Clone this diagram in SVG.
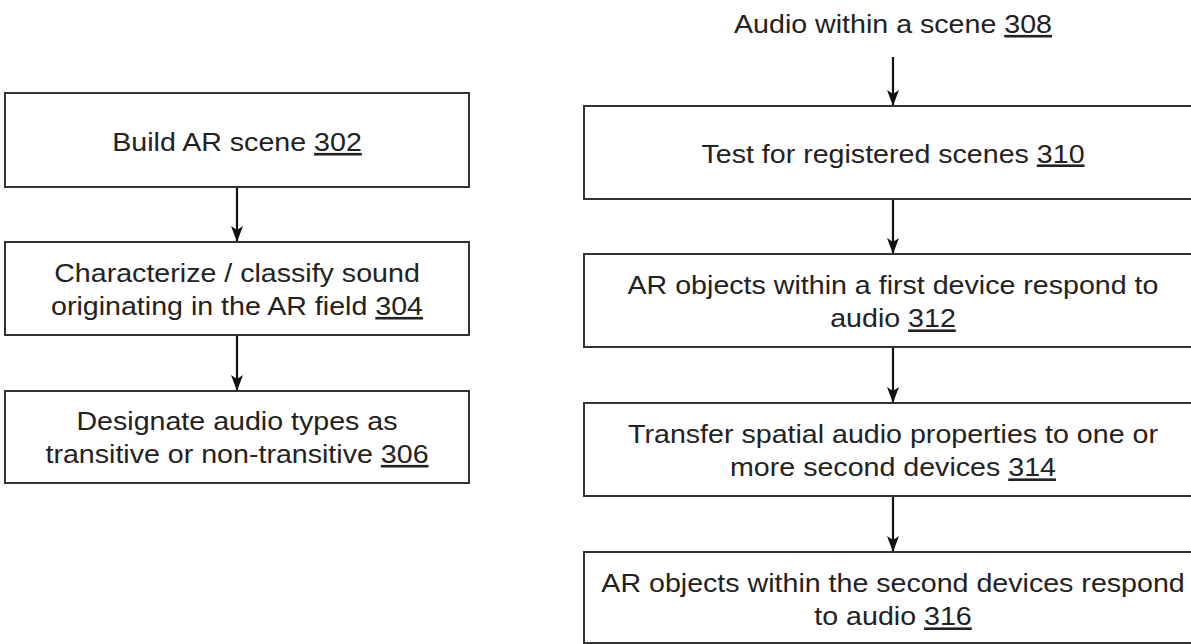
<svg xmlns="http://www.w3.org/2000/svg" width="1191" height="644" viewBox="0 0 1191 644">
  <defs>
    <marker id="arrow" markerUnits="userSpaceOnUse" markerWidth="16" markerHeight="12" viewBox="0 0 16 12" refX="16" refY="6" orient="auto">
      <path d="M0,0 L16,6 L0,12 L4,6 z" fill="#111"/>
    </marker>
    <style>
      .box { fill: #ffffff; stroke: #333333; stroke-width: 2; }
      .lbl { font-family: "Liberation Sans", Arial, sans-serif; font-size: 26px; fill: #222222; text-anchor: middle; }
      .u { text-decoration: underline; }
      .conn { stroke: #111111; stroke-width: 2.2; fill: none; marker-end: url(#arrow); }
    </style>
  </defs>
  <rect width="1191" height="644" fill="#ffffff"/>

  <g id="connectors">
    <line class="conn" x1="237" y1="187" x2="237" y2="242"/>
    <line class="conn" x1="237" y1="335" x2="237" y2="391"/>
    <line class="conn" x1="893" y1="57" x2="893" y2="106"/>
    <line class="conn" x1="893" y1="199" x2="893" y2="254"/>
    <line class="conn" x1="893" y1="347" x2="893" y2="403"/>
    <line class="conn" x1="893" y1="496" x2="893" y2="552"/>
  </g>

  <g id="n302">
    <rect class="box" x="5" y="93" width="464" height="94"/>
    <text class="lbl" transform="translate(237 151) scale(1.1 1)"><tspan x="0" y="0">Build AR scene <tspan class="u">302</tspan></tspan></text>
  </g>

  <g id="n304">
    <rect class="box" x="5" y="242" width="464" height="93"/>
    <text class="lbl" transform="translate(237 282) scale(1.1 1)"><tspan x="0" y="0">Characterize / classify sound</tspan><tspan x="0" y="33">originating in the AR field <tspan class="u">304</tspan></tspan></text>
  </g>

  <g id="n306">
    <rect class="box" x="5" y="391" width="464" height="92"/>
    <text class="lbl" transform="translate(237 430) scale(1.1 1)"><tspan x="0" y="0">Designate audio types as</tspan><tspan x="0" y="33">transitive or non-transitive <tspan class="u">306</tspan></tspan></text>
  </g>

  <g id="n308">
    <text class="lbl" transform="translate(893 33) scale(1.1 1)"><tspan x="0" y="0">Audio within a scene <tspan class="u">308</tspan></tspan></text>
  </g>

  <g id="n310">
    <rect class="box" x="584" y="106" width="620" height="93"/>
    <text class="lbl" transform="translate(893 162.5) scale(1.1 1)"><tspan x="0" y="0">Test for registered scenes <tspan class="u">310</tspan></tspan></text>
  </g>

  <g id="n312">
    <rect class="box" x="584" y="254" width="620" height="93"/>
    <text class="lbl" transform="translate(893 294) scale(1.1 1)"><tspan x="0" y="0">AR objects within a first device respond to</tspan><tspan x="0" y="33.5">audio <tspan class="u">312</tspan></tspan></text>
  </g>

  <g id="n314">
    <rect class="box" x="584" y="403" width="620" height="93"/>
    <text class="lbl" transform="translate(893 443) scale(1.1 1)"><tspan x="0" y="0">Transfer spatial audio properties to one or</tspan><tspan x="0" y="33.5">more second devices <tspan class="u">314</tspan></tspan></text>
  </g>

  <g id="n316">
    <rect class="box" x="584" y="552" width="620" height="91"/>
    <text class="lbl" transform="translate(893 592) scale(1.1 1)"><tspan x="0" y="0">AR objects within the second devices respond</tspan><tspan x="0" y="33.5">to audio <tspan class="u">316</tspan></tspan></text>
  </g>
</svg>
